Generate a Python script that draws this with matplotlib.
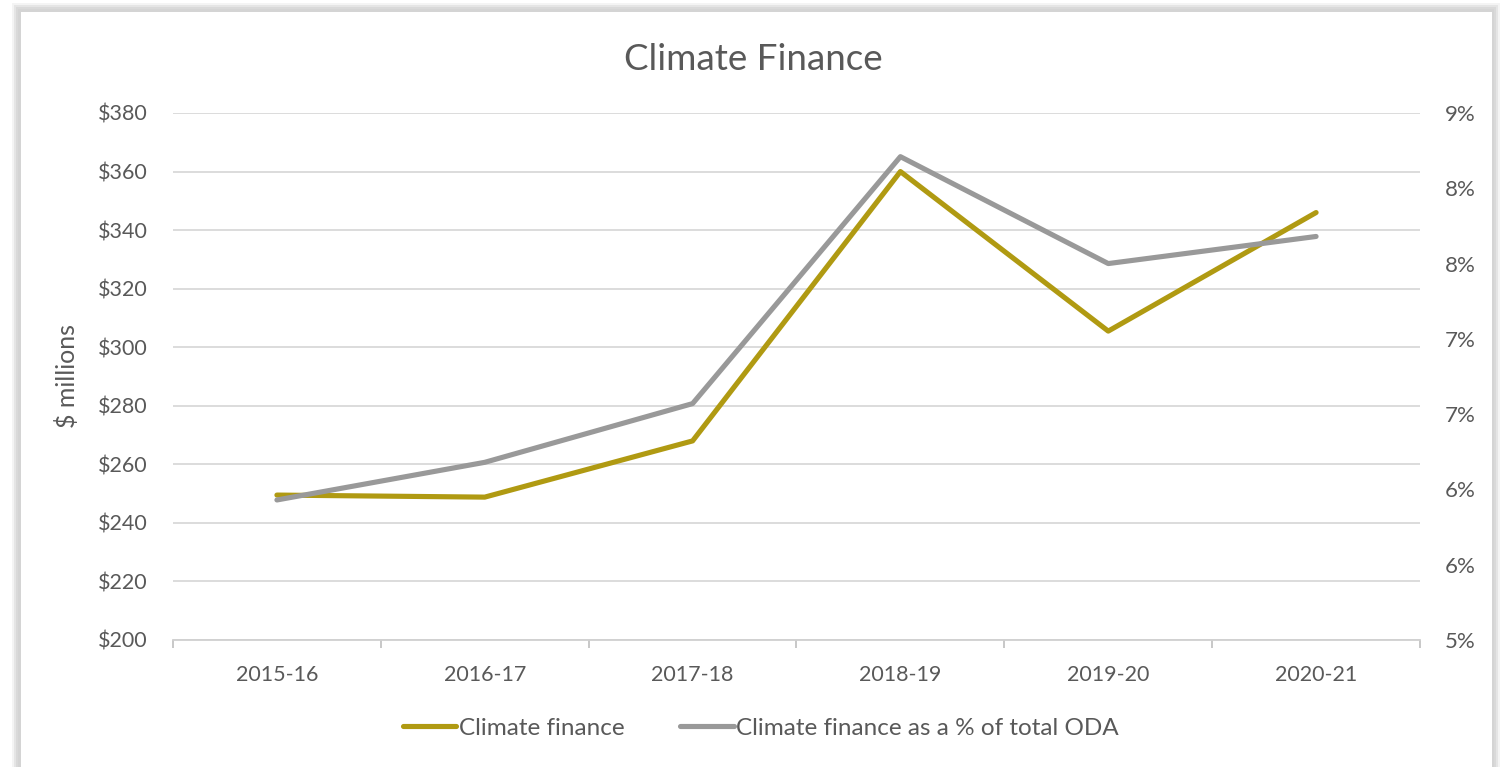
import matplotlib
matplotlib.use("Agg")
import matplotlib.pyplot as plt
from matplotlib.patches import Rectangle
from matplotlib.lines import Line2D

years = ["2015-16", "2016-17", "2017-18", "2018-19", "2019-20", "2020-21"]
climate_finance = [249.5, 248.8, 268.0, 360.0, 305.5, 346.0]
pct_of_oda = [0.0593, 0.0618, 0.0657, 0.0821, 0.0750, 0.0768]
left_ticks = [200, 220, 240, 260, 280, 300, 320, 340, 360, 380]
right_ticks = [0.05, 0.055, 0.06, 0.065, 0.07, 0.075, 0.08, 0.085]
right_labels = ["5%", "6%", "6%", "7%", "7%", "8%", "8%", "9%"]

gold = "#b09a12"
grey = "#999999"
text_col = "#595959"
grid_col = "#d9d9d9"

plt.rcParams["font.family"] = ["Lato", "DejaVu Sans"]

W, H = 1506, 767
fig = plt.figure(figsize=(W / 100, H / 100), dpi=100)
fig.patch.set_facecolor("white")

# soft shadow frame round the chart panel
for i, a in enumerate([0.25, 0.45, 0.7, 1.0]):
    fig.patches.append(Rectangle(((12 + i * 2) / W, 0), (1488 - i * 4) / W, (764 - i * 2) / H,
                                 transform=fig.transFigure, facecolor="#d4d4d4",
                                 alpha=a, edgecolor="none", zorder=0))
fig.patches.append(Rectangle((21 / W, 0), 1471 / W, 755 / H, transform=fig.transFigure,
                             facecolor="white", edgecolor="none", zorder=1))

ax = fig.add_axes([173 / W, 1 - 640 / H, 1247 / W, 527 / H])
ax.set_zorder(3)
ax.patch.set_visible(False)
ax2 = ax.twinx()

x = range(len(years))
ax.plot(x, climate_finance, color=gold, lw=3.7, solid_capstyle="round", zorder=4)
ax2.plot(x, pct_of_oda, color=grey, lw=3.7, solid_capstyle="round", zorder=4)

ax.set_xlim(-0.5, len(years) - 0.5)
ax.set_ylim(200, 380)
ax2.set_ylim(0.05, 0.085)
ax.set_yticks(left_ticks)
ax.set_yticklabels([f"${v}" for v in left_ticks])
ax2.set_yticks(right_ticks)
ax2.set_yticklabels(right_labels)

ax.set_xticks(list(x))
ax.set_xticklabels(years)
ax.set_xticks([i - 0.5 for i in range(len(years) + 1)], minor=True)
ax.tick_params(axis="x", which="major", length=0, pad=18, labelsize=15.5, labelcolor=text_col)
ax.tick_params(axis="x", which="minor", length=6, color="#bfbfbf", width=1.2)
ax.tick_params(axis="y", length=0, pad=18, labelsize=15.5, labelcolor=text_col)
ax2.tick_params(axis="y", length=0, pad=18, labelsize=16, labelcolor=text_col)

ax.grid(axis="y", color=grid_col, lw=1.3)
ax.set_axisbelow(True)
for s in ["top", "left", "right"]:
    ax.spines[s].set_visible(False)
    ax2.spines[s].set_visible(False)
ax2.spines["bottom"].set_visible(False)
ax.spines["bottom"].set_color("#d0d0d0")
ax.spines["bottom"].set_linewidth(1.3)

ax.set_ylabel("$ millions", fontsize=18, color=text_col, labelpad=14)
fig.text(0.5, 1 - 59 / H, "Climate Finance", ha="center", va="center",
         fontsize=26.5, color=text_col)

handles = [Line2D([], [], color=gold, lw=3.7, solid_capstyle="round"),
           Line2D([], [], color=grey, lw=3.7, solid_capstyle="round")]
fig.legend(handles, ["Climate finance", "Climate finance as a % of total ODA"],
           loc="center", bbox_to_anchor=(0.5 + 8 / W, 1 - 728 / H), ncol=2, frameon=False,
           fontsize=17.5, labelcolor=text_col, handlelength=2.2, handletextpad=0.1,
           columnspacing=2.3)

fig.savefig("out.png", dpi=100, facecolor=fig.get_facecolor())
